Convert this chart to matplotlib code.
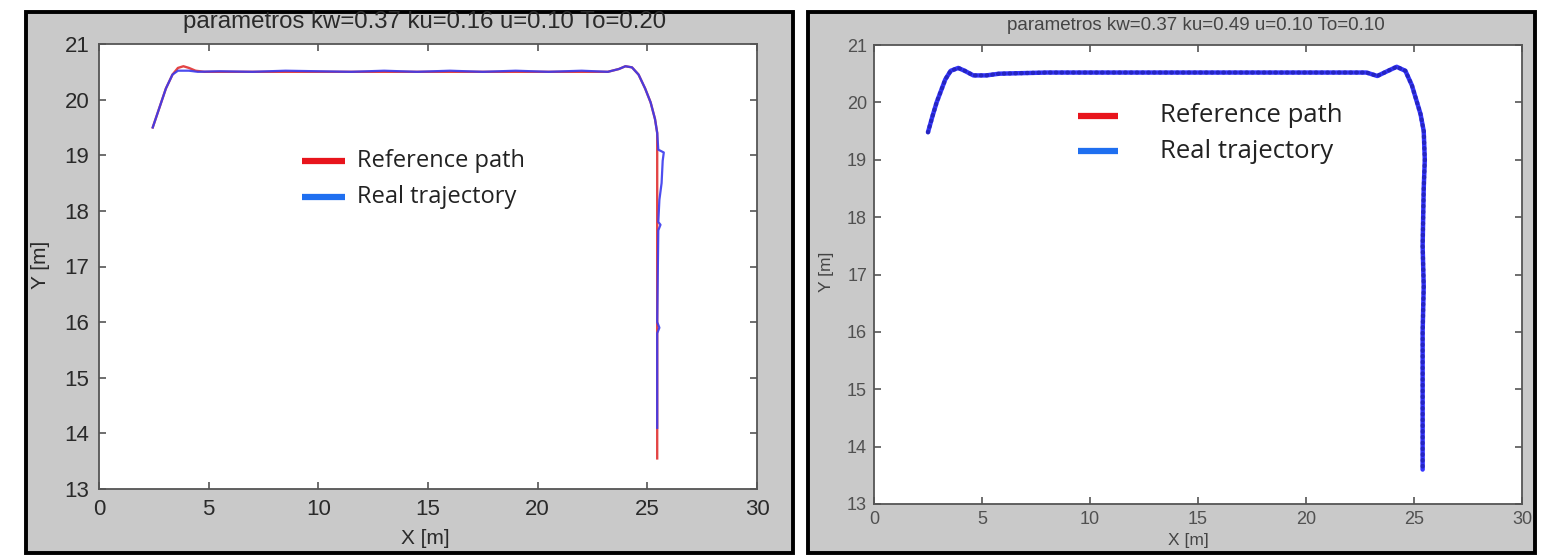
import matplotlib
matplotlib.use("Agg")
import matplotlib.pyplot as plt
from matplotlib.patches import Rectangle
from matplotlib.lines import Line2D

# ---------------- data ----------------
# left chart (kw=0.37 ku=0.16 u=0.10 To=0.20)
ref_x = [2.45, 2.75, 3.05, 3.35, 3.6, 3.85, 4.1, 4.4, 4.8, 8.0, 12.0, 16.0, 20.0, 23.2,
         23.7, 24.0, 24.3, 24.6, 24.9, 25.15, 25.35, 25.45, 25.45, 25.45, 25.45]
ref_y = [19.5, 19.85, 20.2, 20.45, 20.57, 20.6, 20.57, 20.52, 20.5, 20.5, 20.5, 20.5, 20.5, 20.5,
         20.55, 20.6, 20.58, 20.45, 20.2, 19.95, 19.65, 19.4, 18.0, 16.0, 13.55]

traj_x = [2.45, 2.75, 3.05, 3.35, 3.6, 3.85, 4.1, 4.5, 5.5, 7.0, 8.5, 10.0, 11.5, 13.0,
          14.5, 16.0, 17.5, 19.0, 20.5, 22.0, 23.2, 23.7, 24.0, 24.3,
          24.6, 24.9, 25.15, 25.35, 25.45, 25.5, 25.75, 25.7, 25.65, 25.55, 25.5, 25.6, 25.5,
          25.45, 25.55, 25.45, 25.45]
traj_y = [19.5, 19.85, 20.2, 20.45, 20.52, 20.52, 20.52, 20.5, 20.51, 20.5, 20.52, 20.51,
          20.5, 20.52, 20.5, 20.52, 20.5, 20.52, 20.5, 20.52, 20.5, 20.55, 20.6, 20.58,
          20.45, 20.2, 19.95, 19.65, 19.4, 19.1, 19.05, 18.9, 18.5, 18.2, 17.8, 17.75, 17.65,
          16.0, 15.9, 15.8, 14.1]

# right chart (kw=0.37 ku=0.49 u=0.10 To=0.10)
traj2_x = [2.5, 2.7, 2.9, 3.1, 3.3, 3.55, 3.9, 4.2, 4.6, 5.2, 5.8, 8.0, 12.0, 16.0, 20.0, 22.8,
           23.3, 23.8, 24.2, 24.6, 24.9, 25.1, 25.3, 25.45, 25.5, 25.45, 25.4, 25.45, 25.4, 25.4, 25.4]
traj2_y = [19.48, 19.75, 20.0, 20.2, 20.4, 20.55, 20.6, 20.55, 20.47, 20.47, 20.5, 20.52, 20.52,
           20.52, 20.52, 20.52, 20.46, 20.55, 20.62, 20.55, 20.3, 20.05, 19.8, 19.5, 19.0, 18.5,
           17.5, 16.8, 16.0, 15.0, 13.6]

x_ticks = [0, 5, 10, 15, 20, 25, 30]
y_ticks = [13, 14, 15, 16, 17, 18, 19, 20, 21]
title_left = "parametros kw=0.37 ku=0.16 u=0.10 To=0.20"
title_right = "parametros kw=0.37 ku=0.49 u=0.10 To=0.10"
legend_labels = ["Reference path", "Real trajectory"]

# ---------------- figure ----------------
W, H = 1551, 558
fig = plt.figure(figsize=(W / 100, H / 100), dpi=100)
fig.patch.set_facecolor('white')


def fx(px):
    return px / W


def fy(py):
    return 1 - py / H


GRAY = '#c9c9c9'
for (x0, x1) in [(26, 793), (808, 1535)]:
    fig.patches.append(Rectangle((fx(x0), fy(553)), fx(x1) - fx(x0), fy(12) - fy(553),
                                 transform=fig.transFigure, facecolor=GRAY,
                                 edgecolor='black', lw=2.8, zorder=-10))

ax1 = fig.add_axes([fx(99), fy(489), fx(757) - fx(99), fy(44) - fy(489)])
ax2 = fig.add_axes([fx(874), fy(504), fx(1522) - fx(874), fy(45) - fy(504)])


def style(ax, fs, pad, col):
    ax.set_xlim(0, 30)
    ax.set_ylim(13, 21)
    ax.set_xticks(x_ticks)
    ax.set_yticks(y_ticks)
    ax.set_facecolor('white')
    for s in ax.spines.values():
        s.set_color('#555555')
        s.set_linewidth(1.3)
    ax.tick_params(direction='in', length=5, width=1.2, color='#555555',
                   top=True, right=True, labelsize=fs, labelcolor=col, pad=pad)
    for lab in ax.get_xticklabels() + ax.get_yticklabels():
        lab.set_fontfamily('Liberation Sans')


style(ax1, 16, 7, '#2a2a2a')
style(ax2, 13, 5, '#505050')

# left lines
ax1.plot(ref_x, ref_y, color='#e03030', lw=1.7, alpha=0.9, zorder=2)
ax1.plot(traj_x, traj_y, color='#3a3aee', lw=1.6, alpha=0.9, zorder=3)

# right dotted trajectory
ax2.plot(traj2_x, traj2_y, color='#2020ff', lw=3.2, alpha=0.9, zorder=2,
         solid_capstyle='round')
ax2.plot(traj2_x, traj2_y, color='#1a1a9a', lw=3.2, linestyle=(0, (0.1, 1.2)),
         dash_capstyle='round', alpha=0.6, zorder=3)

# titles and labels
fig.text(fx(425), fy(22), title_left, ha='center', va='center', fontsize=17.3,
         family='Liberation Sans', color='#2a2a2a', zorder=10)
fig.text(fx(1196), fy(25), title_right, ha='center', va='center', fontsize=13.5,
         family='Liberation Sans', color='#444444', zorder=10)
fig.text(fx(425), fy(538), "X [m]", ha='center', va='center', fontsize=15,
         family='Liberation Sans', color='#2a2a2a', zorder=10)
fig.text(fx(41), fy(265), "Y [m]", ha='center', va='center', fontsize=15,
         family='Liberation Sans', color='#2a2a2a', rotation=90, zorder=10)
fig.text(fx(1188), fy(541), "X [m]", ha='center', va='center', fontsize=12.5,
         family='Liberation Sans', color='#444444', zorder=10)
fig.text(fx(826), fy(272), "Y [m]", ha='center', va='center', fontsize=12.5,
         family='Liberation Sans', color='#444444', rotation=90, zorder=10)

# legends (drawn as figure annotations)
RED, BLUE = '#e8141c', '#1f6ff0'
for (lx0, lx1, tx, y0, y1, fs) in [(302, 345, 357, 161, 197, 17.0),
                                   (1078, 1118, 1160, 116, 151, 18.5)]:
    fig.lines.append(Line2D([fx(lx0), fx(lx1)], [fy(y0), fy(y0)], transform=fig.transFigure,
                            color=RED, lw=4.5, solid_capstyle='butt', zorder=10))
    fig.lines.append(Line2D([fx(lx0), fx(lx1)], [fy(y1), fy(y1)], transform=fig.transFigure,
                            color=BLUE, lw=4.5, solid_capstyle='butt', zorder=10))
    fig.text(fx(tx), fy(y0), legend_labels[0], ha='left', va='center', fontsize=fs,
             family='Open Sans', color='#222222', zorder=10)
    fig.text(fx(tx), fy(y1), legend_labels[1], ha='left', va='center', fontsize=fs,
             family='Open Sans', color='#222222', zorder=10)

fig.savefig('out.png', dpi=100)
